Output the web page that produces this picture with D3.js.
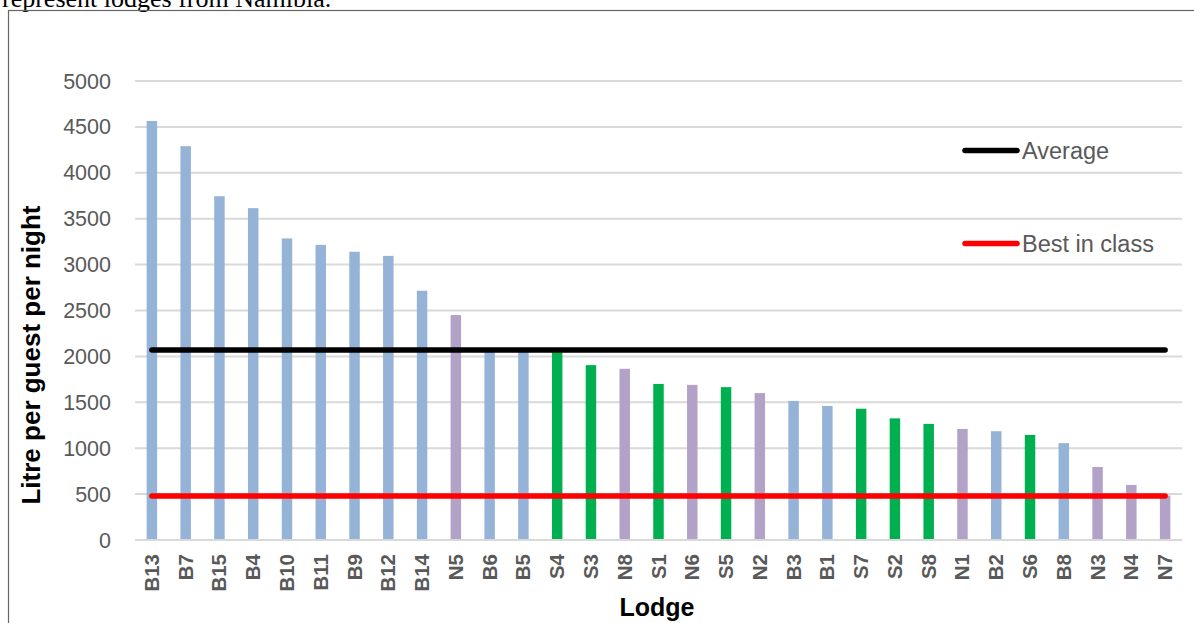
<!DOCTYPE html>
<html>
<head>
<meta charset="utf-8">
<script src="https://cdn.jsdelivr.net/npm/d3@7"></script>
<style>
  html, body { margin: 0; padding: 0; background: #fff; }
  svg { display: block; }
</style>
</head>
<body>
<svg id="chart" width="1194" height="623"></svg>
<script>
// ---- Data ----
const lodges = ["B13","B7","B15","B4","B10","B11","B9","B12","B14","N5","B6","B5","S4","S3","N8","S1","N6","S5","N2","B3","B1","S7","S2","S8","N1","B2","S6","B8","N3","N4","N7"];
const values = [4565,4290,3745,3615,3285,3215,3140,3095,2715,2450,2085,2080,2065,1905,1865,1700,1690,1665,1600,1515,1460,1430,1325,1265,1210,1185,1145,1055,795,600,485];
const averageValue = 2070;
const bestInClassValue = 480;
const yTicks = [0,500,1000,1500,2000,2500,3000,3500,4000,4500,5000];
const legendLabels = ["Average", "Best in class"];
const groupColors = { B: "#95B3D7", N: "#B3A2C7", S: "#00B050" };

// ---- Drawing ----
const svg = d3.select("#chart");

// caption fragment above the chart frame (cut off in the original as well)
svg.append("text")
  .attr("x", 2).attr("y", 7)
  .attr("font-family", "'Liberation Serif', 'Times New Roman', serif")
  .attr("font-size", 26)
  .attr("fill", "#000")
  .text("represent lodges from Namibia.");

// chart frame
svg.append("rect")
  .attr("x", 8.5).attr("y", 10.5)
  .attr("width", 1200).attr("height", 700)
  .attr("fill", "none")
  .attr("stroke", "#666")
  .attr("stroke-width", 1.2);

const plotLeft = 135, plotRight = 1182, plotTop = 81, plotBottom = 540;

const x = d3.scaleBand()
  .domain(lodges)
  .range([plotLeft, plotRight])
  .paddingInner(0.69)
  .paddingOuter(0.345);

const y = d3.scaleLinear()
  .domain([0, 5000])
  .range([plotBottom, plotTop]);

// gridlines
svg.append("g")
  .selectAll("line")
  .data(yTicks)
  .join("line")
  .attr("x1", plotLeft).attr("x2", plotRight)
  .attr("y1", d => y(d)).attr("y2", d => y(d))
  .attr("stroke", "#D9D9D9")
  .attr("stroke-width", 2);

// y tick labels
svg.append("g")
  .selectAll("text")
  .data(yTicks)
  .join("text")
  .attr("x", 111)
  .attr("y", d => y(d))
  .attr("dy", "0.35em")
  .attr("text-anchor", "end")
  .attr("font-family", "'Liberation Sans', Arial, sans-serif")
  .attr("font-size", 21.5)
  .attr("fill", "#595959")
  .text(d => d);

// bars
svg.append("g")
  .selectAll("rect")
  .data(lodges.map((l, i) => ({ lodge: l, value: values[i] })))
  .join("rect")
  .attr("x", d => x(d.lodge))
  .attr("width", x.bandwidth())
  .attr("y", d => y(d.value))
  .attr("height", d => y(0) - y(d.value))
  .attr("fill", d => groupColors[d.lodge[0]]);

// baseline
svg.append("line")
  .attr("x1", plotLeft).attr("x2", plotRight)
  .attr("y1", y(0)).attr("y2", y(0))
  .attr("stroke", "#D9D9D9")
  .attr("stroke-width", 2);

// reference lines
const xFirst = x(lodges[0]) + x.bandwidth() / 2;
const xLast = x(lodges[lodges.length - 1]) + x.bandwidth() / 2;
svg.append("line")
  .attr("x1", xFirst).attr("x2", xLast)
  .attr("y1", y(averageValue)).attr("y2", y(averageValue))
  .attr("stroke", "#000").attr("stroke-width", 5.5)
  .attr("stroke-linecap", "round");
svg.append("line")
  .attr("x1", xFirst).attr("x2", xLast)
  .attr("y1", y(bestInClassValue)).attr("y2", y(bestInClassValue))
  .attr("stroke", "#FF0000").attr("stroke-width", 5.5)
  .attr("stroke-linecap", "round");

// x tick labels (rotated)
svg.append("g")
  .selectAll("text")
  .data(lodges)
  .join("text")
  .attr("transform", d => `translate(${x(d) + x.bandwidth() / 2 + 7},554) rotate(-90)`)
  .attr("text-anchor", "end")
  .attr("font-family", "'Liberation Sans', Arial, sans-serif")
  .attr("font-weight", "bold")
  .attr("font-size", 20.5)
  .attr("fill", "#595959")
  .text(d => d);

// axis titles
svg.append("text")
  .attr("transform", "translate(40,355) rotate(-90)")
  .attr("text-anchor", "middle")
  .attr("font-family", "'Liberation Sans', Arial, sans-serif")
  .attr("font-weight", "bold")
  .attr("font-size", 26)
  .attr("fill", "#000")
  .text("Litre per guest per night");

svg.append("text")
  .attr("x", 657).attr("y", 616)
  .attr("text-anchor", "middle")
  .attr("font-family", "'Liberation Sans', Arial, sans-serif")
  .attr("font-weight", "bold")
  .attr("font-size", 25)
  .attr("fill", "#000")
  .text("Lodge");

// legend
const legendColors = ["#000", "#FF0000"];
const legendY = [150.5, 243.5];
const lg = svg.append("g");
legendLabels.forEach((lab, i) => {
  lg.append("line")
    .attr("x1", 965).attr("x2", 1017)
    .attr("y1", legendY[i]).attr("y2", legendY[i])
    .attr("stroke", legendColors[i]).attr("stroke-width", 5.5)
    .attr("stroke-linecap", "round");
  lg.append("text")
    .attr("x", 1022).attr("y", legendY[i])
    .attr("dy", "0.35em")
    .attr("font-family", "'Liberation Sans', Arial, sans-serif")
    .attr("font-size", 23.5)
    .attr("fill", "#595959")
    .text(lab);
});
</script>
</body>
</html>
